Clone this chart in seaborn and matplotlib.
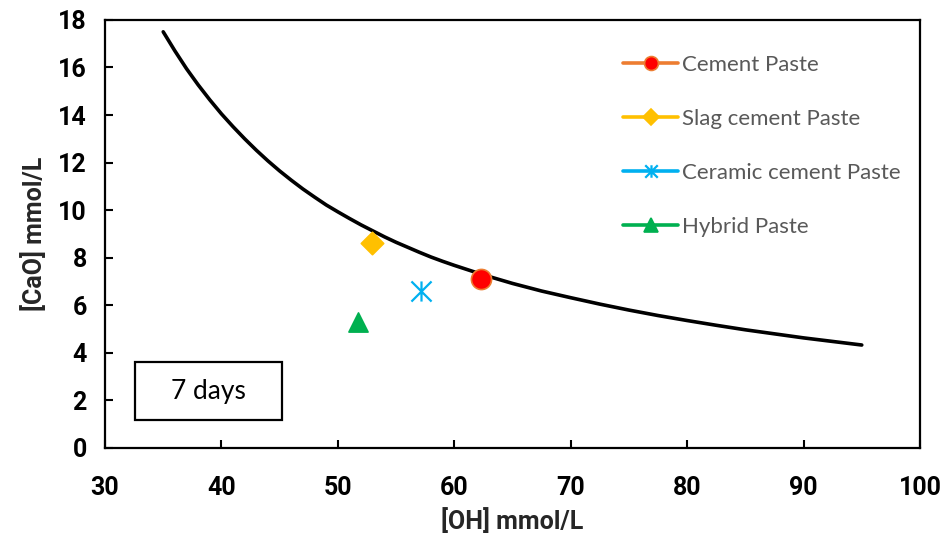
import matplotlib
matplotlib.use("Agg")
import matplotlib.pyplot as plt
import seaborn as sns
import pandas as pd
from matplotlib.lines import Line2D
from matplotlib.patches import Rectangle
from matplotlib.path import Path

# solubility curve
oh_curve = [35, 36, 37, 38, 39, 40, 41, 42, 43, 44, 45, 46, 47, 48, 49, 50,
            51, 52, 53, 54, 55, 56, 57, 58, 59, 60, 62.5, 65, 67.5, 70, 72.5,
            75, 77.5, 80, 82.5, 85, 87.5, 90, 92.5, 95]
cao_curve = [17.5, 16.7, 15.95, 15.27, 14.64, 14.05, 13.51, 13.0, 12.52, 12.07,
             11.65, 11.26, 10.89, 10.55, 10.22, 9.93, 9.65, 9.38, 9.13, 8.88,
             8.65, 8.44, 8.23, 8.03, 7.85, 7.68, 7.28, 6.92, 6.6, 6.32, 6.05,
             5.8, 5.57, 5.36, 5.16, 4.97, 4.8, 4.63, 4.48, 4.33]

# pastes at 7 days
samples = ["Cement Paste", "Slag cement Paste", "Ceramic cement Paste", "Hybrid Paste"]
oh_samples = [62.3, 52.9, 57.1, 51.7]
cao_samples = [7.1, 8.6, 6.6, 5.3]

line_colors = ["#ED7D31", "#FFC000", "#00B0F0", "#00B050"]
face_colors = ["#FF0000", "#FFC000", "#00B0F0", "#00B050"]

# excel style asterisk: vertical bar + X
star = Path([(0, -1), (0, 1), (-1, -1), (1, 1), (-1, 1), (1, -1)],
            [Path.MOVETO, Path.LINETO, Path.MOVETO, Path.LINETO, Path.MOVETO, Path.LINETO])
markers = ["o", "D", star, "^"]
sizes = [210, 130, 210, 190]

sns.set_theme(style="ticks")
plt.rcParams['font.family'] = ['Lato', 'DejaVu Sans']
bold_font = ['Roboto', 'DejaVu Sans']

fig = plt.figure(figsize=(9.46, 5.46), dpi=100)
ax = fig.add_axes([0.111, 0.1795, 0.8615, 0.784])

curve = pd.DataFrame({'OH': oh_curve, 'CaO': cao_curve})
sns.lineplot(data=curve, x='OH', y='CaO', color='black', lw=2.6, ax=ax, zorder=2)

for i, name in enumerate(samples):
    edge = line_colors[i] if i != 2 else face_colors[i]
    sns.scatterplot(x=[oh_samples[i]], y=[cao_samples[i]], marker=markers[i], s=sizes[i],
                    color=face_colors[i], edgecolor=edge, linewidth=1.2 if i != 2 else 1.6,
                    ax=ax, zorder=3, legend=False)

ax.set_xlim(30, 100)
ax.set_ylim(0, 18)
ax.set_xticks(range(30, 101, 10))
ax.set_yticks(range(0, 19, 2))
ax.tick_params(direction='in', length=6, width=1.5, colors='black')
ax.tick_params(axis='x', pad=20)
ax.tick_params(axis='y', pad=13)
for lab in ax.get_xticklabels() + ax.get_yticklabels():
    lab.set_fontweight('bold')
    lab.set_family(bold_font)
    lab.set_fontsize(18)
for sp in ax.spines.values():
    sp.set_visible(True)
    sp.set_linewidth(1.6)
    sp.set_color('black')

ax.set_xlabel('[OH] mmol/L', fontsize=18, fontweight='bold', family=bold_font, labelpad=6)
ax.set_ylabel('[CaO] mmol/L', fontsize=18, fontweight='bold', family=bold_font, labelpad=8)

handles = []
for i in range(4):
    handles.append(Line2D([0], [0], color=line_colors[i], lw=2.6, marker=markers[i],
                          markersize=[10, 8, 9, 10][i], markerfacecolor=face_colors[i],
                          markeredgecolor=line_colors[i] if i != 2 else face_colors[i],
                          markeredgewidth=1.2 if i != 2 else 1.6))
leg = ax.legend(handles, samples, loc='upper left', bbox_to_anchor=(0.636, 0.918),
                frameon=False, fontsize=16, handlelength=2.45, handletextpad=0.18,
                labelspacing=1.53, borderpad=0, borderaxespad=0)
for t in leg.get_texts():
    t.set_color('#595959')

ax.add_patch(Rectangle((0.0368, 0.0654), 0.180, 0.1355, transform=ax.transAxes,
                       fill=False, edgecolor='black', lw=1.6, zorder=4))
ax.text(0.127, 0.133, '7 days', transform=ax.transAxes, ha='center', va='center',
        fontsize=19, color='black')

fig.savefig('out.png', dpi=100)
